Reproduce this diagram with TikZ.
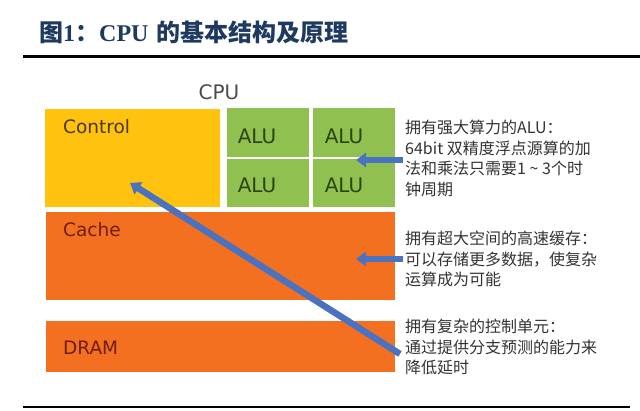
\documentclass[tikz,border=0pt]{standalone}
\usepackage{fontspec}
\setmainfont{DejaVu Sans}
\newfontfamily\cjk{Noto Sans CJK SC}
\newfontfamily\tserif{Liberation Serif}
\usetikzlibrary{arrows.meta}
\definecolor{titleblue}{HTML}{1F3A60}
\definecolor{ctrlyellow}{HTML}{FFC20E}
\definecolor{alugreen}{HTML}{8FC050}
\definecolor{memorange}{HTML}{F37021}
\definecolor{arrblue}{HTML}{4A72C0}
\definecolor{desctext}{HTML}{333333}
\definecolor{ctrltext}{HTML}{4A3800}
\definecolor{alutext}{HTML}{2A4510}
\definecolor{memtext}{HTML}{701C06}
\tikzset{
  blockbox/.style={draw=none, inner sep=0, anchor=north west},
  biglbl/.style={inner sep=0, anchor=west, font=\fontsize{18.5}{20}\selectfont},
  alulbl/.style={inner sep=0, text=alutext, font=\fontsize{20}{22}\selectfont},
  desc/.style={inner sep=0, anchor=north west, align=left, text=desctext,
    font=\cjk\fontsize{16}{20.5}\selectfont},
  bluearrow/.style={draw=arrblue, line width=5.5pt,
    -{Triangle[length=10pt,width=14pt]}},
  rulebar/.style={line width=2.5pt, black}
}
\begin{document}
\begin{tikzpicture}[x=1pt,y=-1pt]
\useasboundingbox (0,0) rectangle (640,411);
\fill[white] (0,0) rectangle (640,411);
% title
\node[inner sep=0, anchor=west, text=titleblue, font=\fontsize{24}{26}\selectfont] (title) at (39,32)
  {{\cjk\bfseries 图}{\tserif\bfseries 1}{\cjk\bfseries ：}{\tserif\bfseries CPU} {\cjk\bfseries 的基本结构及原理}};
\draw[rulebar] (23,56.5) -- (640,56.5);
\draw[rulebar] (23,407) -- (630,407);
% CPU label
\node[inner sep=0, text=black!70, font=\fontsize{20}{22}\selectfont] (cpu) at (219,92) {CPU};
% blocks
\node[blockbox, fill=ctrlyellow, minimum width=175pt, minimum height=98pt] (control) at (45,109) {};
\node[blockbox, fill=alugreen, minimum width=82pt, minimum height=49pt] (alu1) at (227,108) {};
\node[blockbox, fill=alugreen, minimum width=82pt, minimum height=49pt] (alu2) at (313,108) {};
\node[blockbox, fill=alugreen, minimum width=82pt, minimum height=48pt] (alu3) at (227,159) {};
\node[blockbox, fill=alugreen, minimum width=82pt, minimum height=48pt] (alu4) at (313,159) {};
\node[blockbox, fill=memorange, minimum width=349pt, minimum height=88pt] (cache) at (46,212) {};
\node[blockbox, fill=memorange, minimum width=349pt, minimum height=51pt] (dram) at (46,321) {};
% labels
\node[biglbl, text=ctrltext] (controltxt) at (63,127) {Control};
\node[biglbl, text=memtext] (cachetxt) at (63,230) {Cache};
\node[biglbl, text=memtext] (dramtxt) at (63,348) {DRAM};
\node[alulbl] (alut1) at (257,136) {ALU};
\node[alulbl] (alut2) at (344,136) {ALU};
\node[alulbl] (alut3) at (257,185) {ALU};
\node[alulbl] (alut4) at (344,185) {ALU};
% descriptions
\node[desc] (desc1) at (405,120) {拥有强大算力的ALU：\\64bit 双精度浮点源算的加\\法和乘法只需要1 \textasciitilde{} 3个时\\钟周期};
\node[desc] (desc2) at (405,231) {拥有超大空间的高速缓存：\\可以存储更多数据，使复杂\\运算成为可能};
\node[desc] (desc3) at (405,319) {拥有复杂的控制单元：\\通过提供分支预测的能力来\\降低延时};
% arrows
\coordinate (aluTail) at (403,160);
\coordinate (aluTip) at (356,160);
\coordinate (cacheTail) at (403,259);
\coordinate (cacheTip) at (356,259);
\coordinate (ctrlTail) at (400,354);
\coordinate (ctrlTip) at (130,183);
\draw[bluearrow] (aluTail) -- (aluTip);
\draw[bluearrow] (cacheTail) -- (cacheTip);
\draw[bluearrow, line width=6.5pt] (ctrlTail) -- (ctrlTip);
\end{tikzpicture}
\end{document}
